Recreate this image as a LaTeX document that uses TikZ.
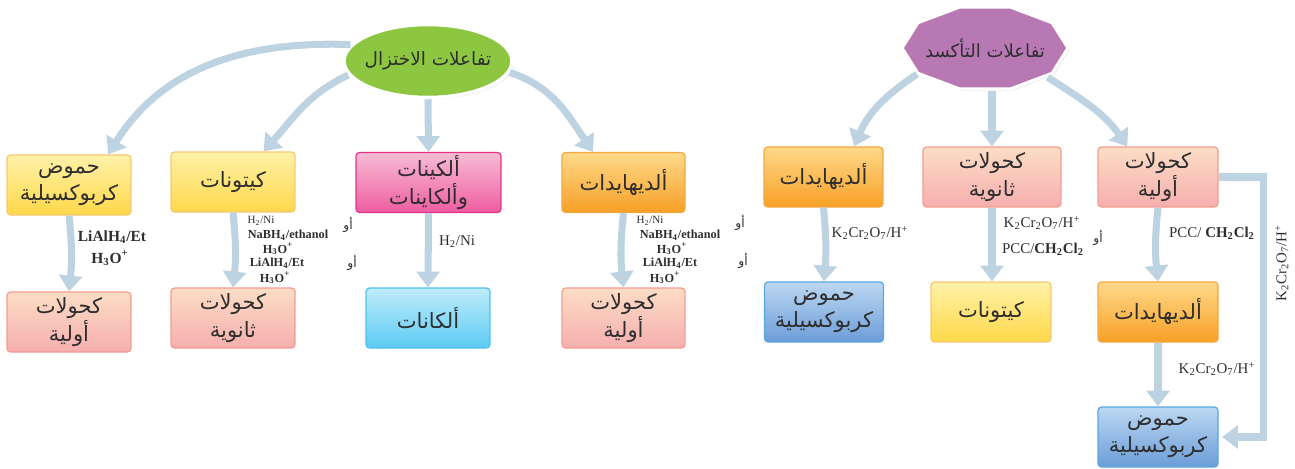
\documentclass[tikz,border=0pt]{standalone}
\usepackage{fontspec}
\setmainfont{Liberation Serif}
\newfontfamily\arabicfont[Script=Arabic]{DejaVu Sans}
\TeXXeTstate=1
\usepackage{xcolor}
\usepackage{tikz}
\usetikzlibrary{arrows.meta,positioning,shapes.geometric,shadows}
\definecolor{flowblue}{HTML}{BDD3E1}
\definecolor{inkgray}{HTML}{2E2E2E}
\definecolor{yellowtop}{HTML}{FFF1A8}
\definecolor{yellowbot}{HTML}{FFD84A}
\definecolor{yellowline}{HTML}{F7C870}
\definecolor{orangetop}{HTML}{FFD98A}
\definecolor{orangebot}{HTML}{F7A026}
\definecolor{orangeline}{HTML}{F4A640}
\definecolor{pinktop}{HTML}{F8BCD4}
\definecolor{pinkbot}{HTML}{EE5DA1}
\definecolor{pinkline}{HTML}{E4338A}
\definecolor{salmontop}{HTML}{FCDDC5}
\definecolor{salmonbot}{HTML}{F6AFAE}
\definecolor{salmonline}{HTML}{F39C8E}
\definecolor{cyantop}{HTML}{BFECFC}
\definecolor{cyanbot}{HTML}{5CCAF2}
\definecolor{cyanline}{HTML}{4FC2EE}
\definecolor{bluetop}{HTML}{BCD7F1}
\definecolor{bluebot}{HTML}{6C9DD8}
\definecolor{blueline}{HTML}{58A8DF}
\definecolor{greenfill}{HTML}{8DC641}
\definecolor{purplefill}{HTML}{B878B4}
\newcommand{\artxt}[1]{{\arabicfont\beginR #1\endR}}

\begin{document}
\begin{tikzpicture}[
  x=0.02cm, y=0.02cm,
  box/.style={draw, rounded corners=2pt, line width=0.7pt, align=center,
              minimum width=2.48cm, minimum height=1.2cm, inner sep=1pt,
              text=inkgray, font=\fontsize{12}{15.5}\selectfont},
  yellowbox/.style={box, top color=yellowtop, bottom color=yellowbot, draw=yellowline},
  orangebox/.style={box, top color=orangetop, bottom color=orangebot, draw=orangeline},
  pinkbox/.style={box, top color=pinktop, bottom color=pinkbot, draw=pinkline},
  salmonbox/.style={box, top color=salmontop, bottom color=salmonbot, draw=salmonline},
  cyanbox/.style={box, top color=cyantop, bottom color=cyanbot, draw=cyanline},
  bluebox/.style={box, top color=bluetop, bottom color=bluebot, draw=blueline},
  flow/.style={-{Triangle[width=13pt,length=9pt]}, line width=4pt, draw=flowblue},
  cond/.style={inner sep=0pt, text=inkgray, font=\fontsize{8.5}{9}\selectfont},
  condb/.style={inner sep=0pt, text=inkgray, font=\fontsize{7}{8}\selectfont\bfseries},
  condsm/.style={inner sep=0pt, text=inkgray, font=\fontsize{6.3}{7}\selectfont},
  orsty/.style={inner sep=0pt, text=inkgray, font=\fontsize{7}{8}\selectfont}
]
  \useasboundingbox (0,0) rectangle (1295,-468);

  % reduction side
  \node[ellipse, fill=greenfill, draw=white, line width=2pt,
        inner xsep=-4pt, inner ysep=4pt,
        minimum width=3.36cm, minimum height=1.46cm, text=inkgray,
        font=\fontsize{10.5}{12}\selectfont,
        drop shadow={opacity=0.2, shadow xshift=1pt, shadow yshift=-1pt}]
        (redn) at (428,-61) {\artxt{تفاعلات الاختزال}};

  \node[yellowbox] (acidL) at (69,-185) {\artxt{حموض}\\\artxt{كربوكسيلية}};
  \node[yellowbox] (ketL) at (233,-182) {\artxt{كيتونات}};
  \node[pinkbox, minimum width=2.9cm] (alkene) at (428.5,-182.5) {\artxt{ألكينات}\\\artxt{وألكاينات}};
  \node[orangebox, minimum width=2.46cm] (aldL) at (623.5,-182.5) {\artxt{ألديهايدات}};
  \node[salmonbox] (alcPL) at (69,-322) {\artxt{كحولات}\\\artxt{أولية}};
  \node[salmonbox] (alcSL) at (233,-318) {\artxt{كحولات}\\\artxt{ثانوية}};
  \node[cyanbox] (alkane) at (428,-318) {\artxt{ألكانات}};
  \node[salmonbox, minimum width=2.46cm] (alcPL2) at (623.5,-318) {\artxt{كحولات}\\\artxt{أولية}};

  \draw[flow] (redn.168) to[out=178,in=58] (acidL.38);
  \draw[flow] (redn.190) to[out=205,in=48] (ketL.45);
  \draw[flow] (redn.south) -- (alkene.north);
  \draw[flow] (redn.-8) to[out=-18,in=124] (aldL.135);
  \draw[flow] (acidL.south) to[bend left=6] (alcPL.north);
  \draw[flow] (ketL.south) to[bend left=6] (alcSL.north);
  \draw[flow] (alkene.south) -- (alkane.north);
  \draw[flow] (aldL.south) to[bend right=6] (alcPL2.north);

  \node[condb, font=\fontsize{8.8}{9}\selectfont\bfseries] (liA) at (112,-237) {LiAlH\textsubscript{4}/Et};
  \node[condb, font=\fontsize{8.8}{9}\selectfont\bfseries] (hoA) at (110,-258) {H\textsubscript{3}O\textsuperscript{+}};
  \node[condsm] (niK) at (261,-221) {H\textsubscript{2}/Ni};
  \node[condb] (nabhK) at (288,-235) {NaBH\textsubscript{4}/ethanol};
  \node[condb] (hoK) at (278,-249) {H\textsubscript{3}O\textsuperscript{+}};
  \node[condb] (liK) at (277,-263) {LiAlH\textsubscript{4}/Et};
  \node[condb] (hoKb) at (275,-278) {H\textsubscript{3}O\textsuperscript{+}};
  \node[orsty] (orK1) at (348,-225) {\artxt{أو}};
  \node[orsty] (orK2) at (352,-263) {\artxt{أو}};
  \node[cond] (niE) at (457,-242) {H\textsubscript{2}/Ni};
  \node[condsm] (niD) at (650,-221) {H\textsubscript{2}/Ni};
  \node[condb] (nabhD) at (680,-235) {NaBH\textsubscript{4}/ethanol};
  \node[condb] (hoD) at (672,-249) {H\textsubscript{3}O\textsuperscript{+}};
  \node[condb] (liD) at (670,-263) {LiAlH\textsubscript{4}/Et};
  \node[condb] (hoDb) at (665,-278) {H\textsubscript{3}O\textsuperscript{+}};
  \node[orsty] (orD1) at (740,-223) {\artxt{أو}};
  \node[orsty] (orD2) at (743,-261) {\artxt{أو}};

  % oxidation side
  \draw[fill=purplefill, draw=white, line width=1.8pt,
        drop shadow={opacity=0.2, shadow xshift=1pt, shadow yshift=-1pt}]
    ([shift={(985,-48)}]0:83 and 43)
    \foreach \a in {36,72,...,324} { -- ([shift={(985,-48)}]\a:83 and 43) } -- cycle;
  \node[ellipse, minimum width=3.28cm, minimum height=1.72cm, inner sep=0pt,
        text=inkgray, font=\fontsize{10.3}{12}\selectfont]
        (oxid) at (985,-48) {\artxt{تفاعلات التأكسد}};

  \node[orangebox, minimum width=2.38cm] (aldR) at (823.5,-177) {\artxt{ألديهايدات}};
  \node[salmonbox, minimum width=2.76cm] (alcSR) at (992,-177) {\artxt{كحولات}\\\artxt{ثانوية}};
  \node[salmonbox, minimum width=2.4cm] (alcPR) at (1158,-177) {\artxt{كحولات}\\\artxt{أولية}};
  \node[bluebox, minimum width=2.38cm] (acidR) at (824,-312) {\artxt{حموض}\\\artxt{كربوكسيلية}};
  \node[yellowbox, minimum width=2.4cm] (ketR) at (991,-312) {\artxt{كيتونات}};
  \node[orangebox, minimum width=2.4cm] (aldR2) at (1158,-312) {\artxt{ألديهايدات}};
  \node[bluebox, minimum width=2.4cm] (acidR2) at (1158,-437) {\artxt{حموض}\\\artxt{كربوكسيلية}};

  \draw[flow] (oxid.201) to[out=214,in=67] (aldR.45);
  \draw[flow] (oxid.south -| alcSR.north) -- (alcSR.north);
  \draw[flow] (oxid.-25) to[out=-33,in=125] (alcPR.135);
  \draw[flow] (aldR.south) to[bend left=5] (acidR.north);
  \draw[flow] (alcSR.south) -- (alcSR.south |- ketR.north);
  \draw[flow] (alcPR.south) to[bend right=6] (aldR2.north);
  \draw[flow] (aldR2.south) -- (acidR2.north);
  \draw[flow, shorten >=2pt] (alcPR.east) -- ++(45,0) |- (acidR2.east);

  \node[cond] (kcrA) at (870,-233) {K\textsubscript{2}Cr\textsubscript{2}O\textsubscript{7}/H\textsuperscript{+}};
  \node[cond] (kcrS) at (1042,-223) {K\textsubscript{2}Cr\textsubscript{2}O\textsubscript{7}/H\textsuperscript{+}};
  \node[cond] (pccS) at (1043,-249) {PCC/\textbf{CH\textsubscript{2}Cl\textsubscript{2}}};
  \node[orsty] (orS) at (1098,-238) {\artxt{أو}};
  \node[cond] (pccP) at (1212,-233) {PCC/ \textbf{CH\textsubscript{2}Cl\textsubscript{2}}};
  \node[cond] (kcrD) at (1217,-369) {K\textsubscript{2}Cr\textsubscript{2}O\textsubscript{7}/H\textsuperscript{+}};
  \node[cond, rotate=90] (kcrR) at (1282,-263) {K\textsubscript{2}Cr\textsubscript{2}O\textsubscript{7}/H\textsuperscript{+}};
\end{tikzpicture}
\end{document}
